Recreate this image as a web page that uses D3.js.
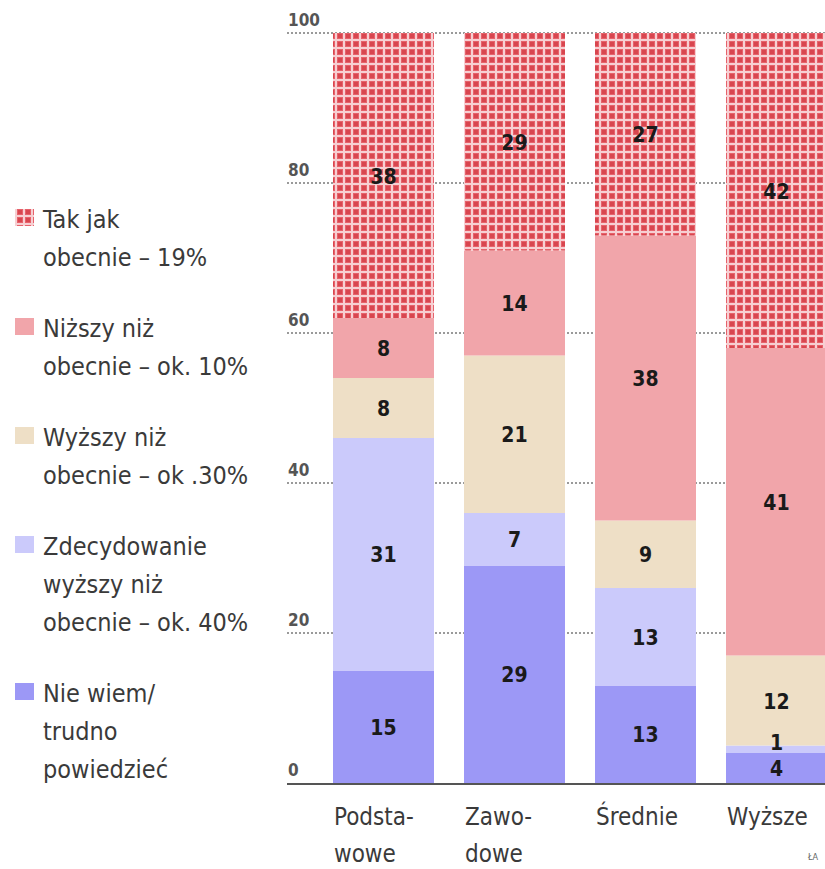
<!DOCTYPE html>
<html lang="pl">
<head>
    <meta charset="UTF-8">
    <title>Poziom – według wykształcenia</title>
    <script src="https://d3js.org/d3.v7.min.js"></script>
    <style>
        body { margin: 0; background: #fff; }
        svg { display: block; font-family: "DejaVu Sans", sans-serif; font-stretch: condensed; }
        .legend text { fill: #3a3a3a; font-size: 25px; }
        .tick-label { fill: #555; font-size: 17px; font-weight: bold; }
        .cat-label { fill: #3a3a3a; font-size: 24px; }
        .val { fill: #1a1a1a; font-size: 21px; font-weight: bold; }
    </style>
</head>
<body>
<svg width="825" height="869"></svg>
<script>
const categories = ["Podstawowe", "Zawodowe", "Średnie", "Wyższe"];
const categoryLines = [["Podsta-", "wowe"], ["Zawo-", "dowe"], ["Średnie"], ["Wyższe"]];

// series, bottom to top of the stack
const seriesKeys = ["nieWiem", "zdecydowanie", "wyzszy", "nizszy", "takJak"];
const nieWiem      = [15, 29, 13, 4];
const zdecydowanie = [31, 7, 13, 1];
const wyzszy       = [8, 21, 9, 12];
const nizszy       = [8, 14, 38, 41];
const takJak       = [38, 29, 27, 42];

const legendLabels = [
    ["Tak jak", "obecnie – 19%"],
    ["Niższy niż", "obecnie – ok. 10%"],
    ["Wyższy niż", "obecnie – ok .30%"],
    ["Zdecydowanie", "wyższy niż", "obecnie – ok. 40%"],
    ["Nie wiem/", "trudno", "powiedzieć"]
];
const legendKeys = ["takJak", "nizszy", "wyzszy", "zdecydowanie", "nieWiem"];
const yTicks = [0, 20, 40, 60, 80, 100];

const svg = d3.select("svg");

// checked fill for "Tak jak obecnie"
const defs = svg.append("defs");
const pat = defs.append("pattern")
    .attr("id", "check")
    .attr("patternUnits", "userSpaceOnUse")
    .attr("width", 8).attr("height", 8);
pat.append("rect").attr("width", 8).attr("height", 8).attr("fill", "#f7cfd2");
pat.append("rect").attr("x", 1).attr("y", 1).attr("width", 6).attr("height", 6).attr("fill", "#e6626b");
pat.append("rect").attr("x", 2).attr("y", 2).attr("width", 4).attr("height", 4).attr("fill", "#d8464f");

const color = {
    nieWiem: "#9c98f6",
    zdecydowanie: "#cbcafb",
    wyzszy: "#eedfc6",
    nizszy: "#f1a5aa",
    takJak: "url(#check)"
};

const rows = categories.map((c, i) => ({
    cat: c,
    nieWiem: nieWiem[i],
    zdecydowanie: zdecydowanie[i],
    wyzszy: wyzszy[i],
    nizszy: nizszy[i],
    takJak: takJak[i]
}));
const stacked = d3.stack().keys(seriesKeys)(rows);

const y = d3.scaleLinear().domain([0, 100]).range([783, 33]);
const x = d3.scaleBand().domain(categories).range([333, 827]).paddingInner(0.229).paddingOuter(0);
const axisX0 = 287, axisX1 = 825;

// dotted gridlines behind bars
svg.append("g")
    .selectAll("line")
    .data(yTicks.filter(t => t > 0))
    .join("line")
    .attr("x1", axisX0).attr("x2", axisX1)
    .attr("y1", d => y(d)).attr("y2", d => y(d))
    .attr("stroke", "#9a9a9a")
    .attr("stroke-width", 2)
    .attr("stroke-dasharray", "2,2");

svg.append("g")
    .selectAll("text")
    .data(yTicks)
    .join("text")
    .attr("class", "tick-label")
    .attr("x", axisX0 + 1)
    .attr("y", d => y(d) - 7)
    .text(d => d);

// bars
svg.append("g")
    .selectAll("g")
    .data(stacked)
    .join("g")
    .attr("fill", d => color[d.key])
    .selectAll("rect")
    .data(d => d)
    .join("rect")
    .attr("x", d => x(d.data.cat))
    .attr("width", x.bandwidth())
    .attr("y", d => y(d[1]))
    .attr("height", d => y(d[0]) - y(d[1]));

// baseline
svg.append("line")
    .attr("x1", axisX0).attr("x2", axisX1)
    .attr("y1", y(0) + 1).attr("y2", y(0) + 1)
    .attr("stroke", "#555").attr("stroke-width", 2);

// value labels, nudged apart when segments are thin
const labelG = svg.append("g");
categories.forEach((c, ci) => {
    let prev = Infinity;
    stacked.forEach(s => {
        const d = s[ci];
        let cy = (y(d[0]) + y(d[1])) / 2 + 8;
        if (cy > prev - 26) cy = prev - 26;
        prev = cy;
        labelG.append("text")
            .attr("class", "val")
            .attr("x", x(c) + x.bandwidth() / 2)
            .attr("y", cy)
            .attr("text-anchor", "middle")
            .text(d[1] - d[0]);
    });
});

// category labels
const catG = svg.append("g");
categories.forEach((c, ci) => {
    catG.append("text")
        .attr("class", "cat-label")
        .selectAll("tspan")
        .data(categoryLines[ci])
        .join("tspan")
        .attr("x", x(c) + 1)
        .attr("y", (d, i) => 825 + i * 37)
        .text(d => d);
});

// legend
const legend = svg.append("g").attr("class", "legend");
let ly = 228;
legendLabels.forEach((lines, i) => {
    legend.append("rect")
        .attr("x", 15).attr("y", ly - 19)
        .attr("width", 19).attr("height", 17)
        .attr("fill", color[legendKeys[i]]);
    legend.append("text")
        .selectAll("tspan")
        .data(lines)
        .join("tspan")
        .attr("x", 43)
        .attr("y", (d, j) => ly + j * 38)
        .text(d => d);
    ly += lines.length * 38 + 33;
});

svg.append("text")
    .attr("x", 808).attr("y", 860)
    .attr("font-size", 9)
    .attr("fill", "#666")
    .text("ŁA");
</script>
</body>
</html>
